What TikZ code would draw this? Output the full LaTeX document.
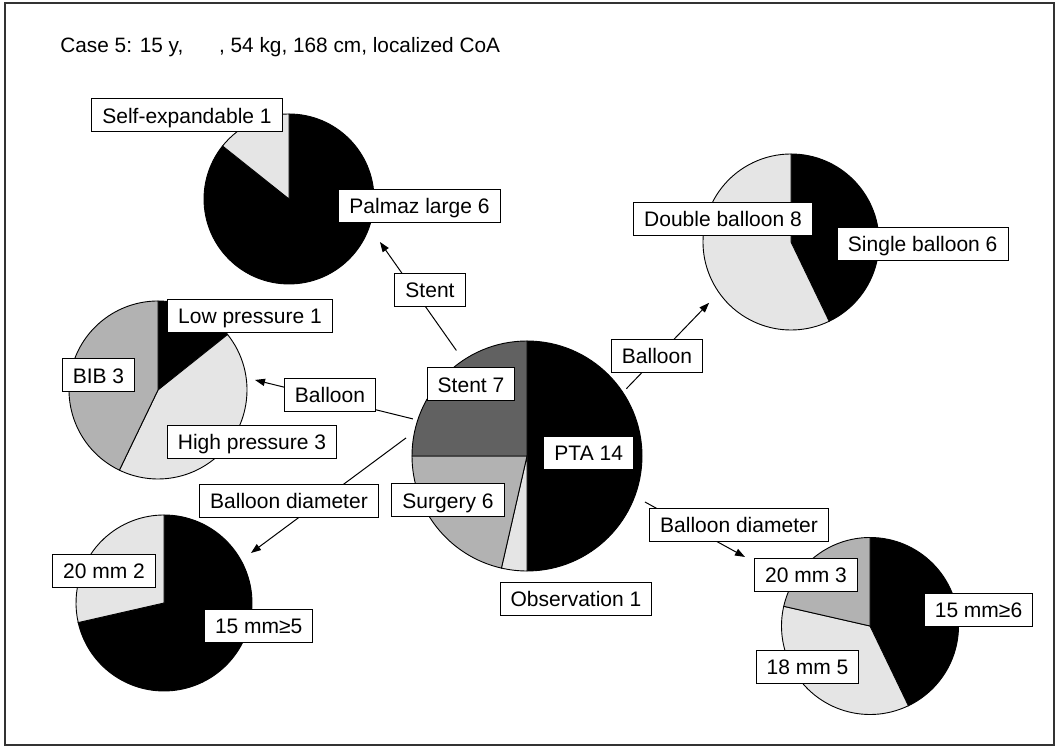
\documentclass[tikz,border=0pt]{standalone}
\usepackage{fontspec}
\setmainfont{Liberation Sans}
\usepackage{tikz}
\usepackage{xcolor}
\usetikzlibrary{arrows.meta}

\definecolor{darkslice}{gray}{0.38}
\definecolor{midslice}{gray}{0.70}
\definecolor{lightslice}{gray}{0.90}

\begin{document}
\begin{tikzpicture}[x=0.5pt, y=0.5pt,
        lbl/.style={draw=black, fill=white, line width=0.5pt, inner xsep=5.3pt, inner ysep=0pt,
            minimum height=16.5pt, text height=7.6pt, text depth=0pt, font=\fontsize{10.5}{12}\selectfont},
        conn/.style={draw=black, line width=0.5pt, -{Triangle[length=5pt,width=3.6pt]}},
        slice/.style={draw=black, line width=0.45pt}]
        \useasboundingbox (0,0) rectangle (1064,747);
        \draw[black!80, line width=0.7pt] (5,2) rectangle (1054,744);

        % title
        \node[anchor=west, inner sep=0pt, font=\fontsize{10.4}{12}\selectfont] (title) at (60,700)
            {Case 5: 15 y, \hspace{15pt}, 54 kg, 168 cm, localized CoA};

        % pie centres
        \coordinate (pcMain) at (527,291);
        \coordinate (pcStent) at (289,548);
        \coordinate (pcBal) at (158,357);
        \coordinate (pcDiaL) at (164,144);
        \coordinate (pcType) at (791,505);
        \coordinate (pcDiaR) at (870,121);

        % main pie
        \filldraw[slice, fill=black] (pcMain) -- ++(90:115) arc[start angle=90, end angle=-90, radius=115] -- cycle;
        \filldraw[slice, fill=lightslice] (pcMain) -- ++(-90:115) arc[start angle=-90, end angle=-102.86, radius=115] -- cycle;
        \filldraw[slice, fill=midslice] (pcMain) -- ++(-102.86:115) arc[start angle=-102.86, end angle=-180, radius=115] -- cycle;
        \filldraw[slice, fill=darkslice] (pcMain) -- ++(180:115) arc[start angle=180, end angle=90, radius=115] -- cycle;

        % stent pie
        \filldraw[slice, fill=black] (pcStent) -- ++(90:85) arc[start angle=90, end angle=-218.57, radius=85] -- cycle;
        \filldraw[slice, fill=lightslice] (pcStent) -- ++(141.43:85) arc[start angle=141.43, end angle=90, radius=85] -- cycle;

        % balloon pie
        \filldraw[slice, fill=black] (pcBal) -- ++(90:89) arc[start angle=90, end angle=38.57, radius=89] -- cycle;
        \filldraw[slice, fill=lightslice] (pcBal) -- ++(38.57:89) arc[start angle=38.57, end angle=-115.71, radius=89] -- cycle;
        \filldraw[slice, fill=midslice] (pcBal) -- ++(-115.71:89) arc[start angle=-115.71, end angle=-270, radius=89] -- cycle;

        % diameter pie, left
        \filldraw[slice, fill=black] (pcDiaL) -- ++(90:88) arc[start angle=90, end angle=-167.14, radius=88] -- cycle;
        \filldraw[slice, fill=lightslice] (pcDiaL) -- ++(192.86:88) arc[start angle=192.86, end angle=90, radius=88] -- cycle;

        % balloon type pie
        \filldraw[slice, fill=black] (pcType) -- ++(90:88) arc[start angle=90, end angle=-64.29, radius=88] -- cycle;
        \filldraw[slice, fill=lightslice] (pcType) -- ++(-64.29:88) arc[start angle=-64.29, end angle=-270, radius=88] -- cycle;

        % diameter pie, right
        \filldraw[slice, fill=black] (pcDiaR) -- ++(90:88.5) arc[start angle=90, end angle=-64.29, radius=88.5] -- cycle;
        \filldraw[slice, fill=lightslice] (pcDiaR) -- ++(-64.29:88.5) arc[start angle=-64.29, end angle=-192.86, radius=88.5] -- cycle;
        \filldraw[slice, fill=midslice] (pcDiaR) -- ++(-192.86:88.5) arc[start angle=-192.86, end angle=-270, radius=88.5] -- cycle;

        % connector ends
        \coordinate (fromStent) at ([shift={(123.8:127)}]pcMain);
        \coordinate (toStent) at ([shift={(-25.3:100.6)}]pcStent);
        \coordinate (fromBal) at ([shift={(162:120)}]pcMain);
        \coordinate (toBal) at ([shift={(5.9:97.5)}]pcBal);
        \coordinate (fromDiaL) at ([shift={(171.5:122.3)}]pcMain);
        \coordinate (toDiaL) at ([shift={(29.9:100.3)}]pcDiaL);
        \coordinate (fromType) at ([shift={(34.1:120)}]pcMain);
        \coordinate (toType) at ([shift={(216.6:102)}]pcType);
        \coordinate (fromDiaR) at ([shift={(-21.3:126.6)}]pcMain);
        \coordinate (toDiaR) at ([shift={(151.1:142.8)}]pcDiaR);

        \draw[conn] (fromStent) -- (toStent);
        \draw[conn] (fromBal) -- (toBal);
        \draw[conn] (fromDiaL) -- (toDiaL);
        \draw[conn] (fromType) -- (toType);
        \draw[conn] (fromDiaR) -- (toDiaR);

        % connector labels
        \node[lbl] (cStent) at (430,457.3) {Stent};
        \node[lbl] (cBal) at (330,352) {Balloon};
        \node[lbl] (cDiaL) at (289,246) {Balloon diameter};
        \node[lbl] (cType) at (657,391.3) {Balloon};
        \node[lbl] (cDiaR) at (739,222) {Balloon diameter};

        % slice labels
        \node[lbl] (lStent) at (471,362.5) {Stent 7};
        \node[lbl] (lPta) at (588.7,294) {PTA 14};
        \node[lbl] (lSurg) at (448,246.5) {Surgery 6};
        \node[lbl] (lObs) at (576,148) {Observation 1};
        \node[lbl] (lSelf) at (187,631.5) {Self-expandable 1};
        \node[lbl] (lPalmaz) at (419.5,541) {Palmaz large 6};
        \node[lbl] (lLow) at (250,431) {Low pressure 1};
        \node[lbl] (lBib) at (98.5,371.5) {BIB 3};
        \node[lbl] (lHigh) at (252,305) {High pressure 3};
        \node[lbl] (lTwentyL) at (104,176) {20 mm 2};
        \node[lbl] (lFifteenL) at (258.7,121) {15 mm≥5};
        \node[lbl] (lDouble) at (723,528) {Double balloon 8};
        \node[lbl] (lSingle) at (922.7,503) {Single balloon 6};
        \node[lbl] (lTwentyR) at (806,172.3) {20 mm 3};
        \node[lbl] (lFifteenR) at (978.5,137.3) {15 mm≥6};
        \node[lbl] (lEighteen) at (807.5,80) {18 mm 5};
    \end{tikzpicture}
\end{document}
